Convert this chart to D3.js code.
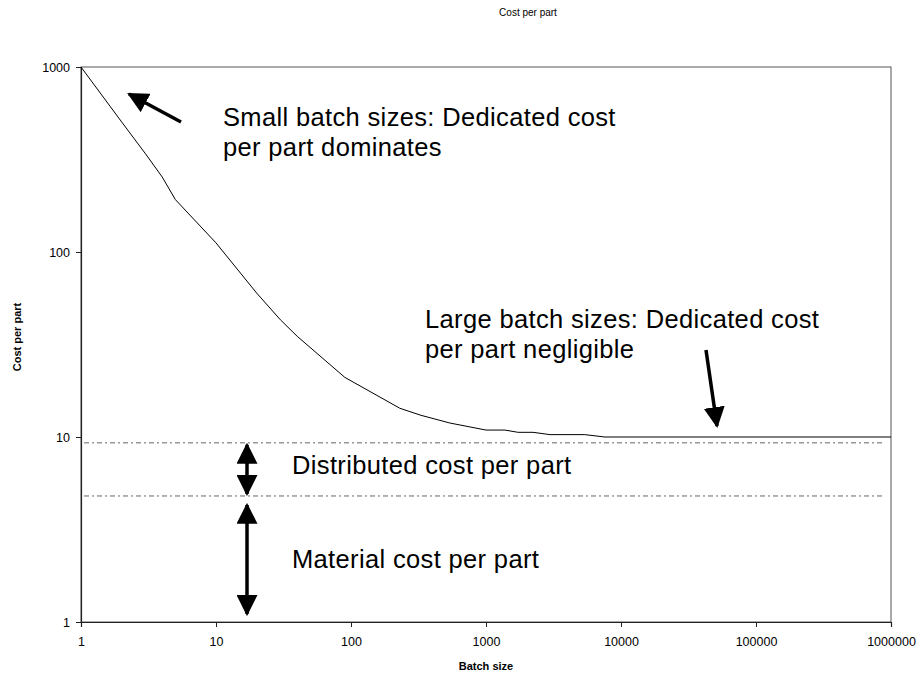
<!DOCTYPE html>
<html>
<head>
<meta charset="utf-8">
<script src="https://cdn.jsdelivr.net/npm/d3@7"></script>
<style>
  html, body { margin: 0; padding: 0; background: #fff; }
  svg { display: block; font-family: "Liberation Sans", Arial, sans-serif; }
</style>
</head>
<body>
<svg id="chart" width="918" height="675"></svg>
<script>
// Batch size vs. cost per part (log-log)
const batchSizes = [1, 2, 3, 4, 5, 10, 20, 30, 40, 90, 230, 330, 540, 1000, 1380, 1730, 2230, 2980, 5400, 7600, 1000000];
const costPerPart = [1000, 505, 340, 254, 192, 112, 60, 43, 35, 21, 14.3, 13.1, 11.9, 10.9, 10.9, 10.6, 10.6, 10.3, 10.3, 10.0, 10.0];

const xTicks = [1, 10, 100, 1000, 10000, 100000, 1000000];
const yTicks = [1, 10, 100, 1000];

// Cost bands: distributed (top) and material (bottom) reference levels
const bandLevels = [9.3, 4.8];

const svg = d3.select("#chart");
const plotL = 81, plotR = 891, plotT = 67, plotB = 622;

const x = d3.scaleLog().domain([1, 1e6]).range([plotL, plotR]);
const y = d3.scaleLog().domain([1, 1000]).range([plotB, plotT]);

// plot frame
svg.append("rect")
  .attr("x", plotL).attr("y", plotT)
  .attr("width", plotR - plotL).attr("height", plotB - plotT)
  .attr("fill", "none").attr("stroke", "#555").attr("stroke-width", 1);

// axes
const xAxis = d3.axisBottom(x).tickValues(xTicks).tickFormat(d3.format("d")).tickSize(5).tickPadding(10);
const yAxis = d3.axisLeft(y).tickValues(yTicks).tickFormat(d3.format("d")).tickSize(5).tickPadding(6);

const gx = svg.append("g").attr("transform", `translate(0,${plotB})`).call(xAxis);
const gy = svg.append("g").attr("transform", `translate(${plotL},0)`).call(yAxis);
[gx, gy].forEach(g => {
  g.select(".domain").attr("stroke", "#222").attr("stroke-width", 1.2);
  g.selectAll(".tick line").attr("stroke", "#222");
  g.selectAll(".tick text").attr("fill", "#000").style("font-size", "12.5px")
    .style("font-family", "'Liberation Sans', Arial, sans-serif");
});

// reference dashed lines
svg.append("g").selectAll("line").data(bandLevels).join("line")
  .attr("x1", plotL + 3).attr("x2", plotR - 6)
  .attr("y1", d => y(d)).attr("y2", d => y(d))
  .attr("stroke", "#666").attr("stroke-width", 1)
  .attr("stroke-dasharray", "5,3,2,3");

// cost curve
const pts = batchSizes.map((b, i) => [b, costPerPart[i]]);
svg.append("path")
  .datum(pts)
  .attr("fill", "none").attr("stroke", "#000").attr("stroke-width", 1)
  .attr("d", d3.line().x(d => x(d[0])).y(d => y(d[1])));

// arrows
const defs = svg.append("defs");
defs.append("marker").attr("id", "head")
  .attr("viewBox", "0 0 10 10").attr("refX", 9).attr("refY", 5)
  .attr("markerUnits", "userSpaceOnUse")
  .attr("markerWidth", 21).attr("markerHeight", 21)
  .attr("orient", "auto-start-reverse")
  .append("path").attr("d", "M0,0 L10,5 L0,10 Z").attr("fill", "#000");

function arrow(x1, y1, x2, y2, both) {
  const p = svg.append("line")
    .attr("x1", x1).attr("y1", y1).attr("x2", x2).attr("y2", y2)
    .attr("stroke", "#000").attr("stroke-width", 3.5)
    .attr("marker-end", "url(#head)");
  if (both) p.attr("marker-start", "url(#head)");
}

arrow(181, 122, 129, 94, false);
arrow(706, 350, 717, 426, false);
const axArrow = 247;
arrow(axArrow, y(bandLevels[0]) + 2, axArrow, y(bandLevels[1]) - 2, true);
arrow(axArrow, y(bandLevels[1]) + 9, axArrow, plotB - 8, true);

// annotations
const notes = [
  { x: 223, y: 126, lines: ["Small batch sizes: Dedicated cost", "per part dominates"] },
  { x: 425, y: 328, lines: ["Large batch sizes: Dedicated cost", "per part negligible"] },
  { x: 292, y: 474, lines: ["Distributed cost per part"] },
  { x: 292, y: 568, lines: ["Material cost per part"] }
];
notes.forEach(n => {
  const t = svg.append("text").attr("x", n.x).attr("y", n.y)
    .style("font-size", "25.5px").style("letter-spacing", "0.35px").attr("fill", "#000");
  n.lines.forEach((l, i) => t.append("tspan").attr("x", n.x).attr("dy", i === 0 ? 0 : 30).text(l));
});

// titles
svg.append("text").attr("x", 528).attr("y", 16).attr("text-anchor", "middle")
  .style("font-size", "10px").style("font-family", "'Liberation Sans Narrow', 'Liberation Sans', Arial, sans-serif")
  .text("Cost per part");
svg.append("text").attr("x", 486).attr("y", 670).attr("text-anchor", "middle")
  .style("font-size", "11px").style("font-weight", "bold").text("Batch size");
svg.append("text").attr("transform", "translate(21,337) rotate(-90)").attr("text-anchor", "middle")
  .style("font-size", "11px").style("font-weight", "bold").text("Cost per part");
</script>
</body>
</html>
